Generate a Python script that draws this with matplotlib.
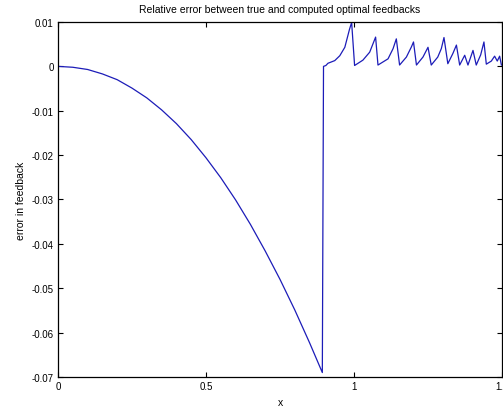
import matplotlib
matplotlib.use("Agg")
import matplotlib.pyplot as plt

plt.rcParams['font.family'] = ['Liberation Sans', 'DejaVu Sans']

# smooth part of the error curve (before the jump)
x_left = [0.0, 0.05, 0.10, 0.15, 0.20, 0.25, 0.30, 0.35, 0.40, 0.45, 0.50,
          0.55, 0.60, 0.65, 0.70, 0.75, 0.80, 0.85, 0.893]
err_left = [0.0, -0.0002, -0.0007, -0.0017, -0.0030, -0.0049, -0.0071, -0.0098,
            -0.0129, -0.0165, -0.0206, -0.0251, -0.0301, -0.0356, -0.0416,
            -0.0480, -0.0549, -0.0623, -0.0690]

# oscillating part after the jump
x_right = [0.897, 0.905, 0.912, 0.935, 0.952, 0.969, 0.985, 0.992, 1.002,
           1.030, 1.053, 1.073, 1.081,
           1.115, 1.132, 1.143, 1.154,
           1.177, 1.194, 1.201, 1.211,
           1.233, 1.250, 1.261,
           1.283, 1.295, 1.304, 1.317,
           1.334, 1.346, 1.357,
           1.374, 1.385,
           1.402, 1.413,
           1.428, 1.439, 1.447,
           1.464, 1.475, 1.484, 1.492, 1.498]
err_right = [0.0, 0.0002, 0.0007, 0.0013, 0.0024, 0.0043, 0.0084, 0.0099, 0.0002,
             0.0014, 0.0032, 0.0066, 0.0003,
             0.0017, 0.0040, 0.0062, 0.0003,
             0.0021, 0.0044, 0.0055, 0.0003,
             0.0021, 0.0043, 0.0003,
             0.0021, 0.0040, 0.0065, 0.0006,
             0.0029, 0.0048, 0.0003,
             0.0025, 0.0003,
             0.0036, 0.0003,
             0.0026, 0.0055, 0.0005,
             0.0012, 0.0023, 0.0012, 0.0023, 0.0003]

x_ticks = [0, 0.5, 1, 1.5]
x_labels = ['0', '0.5', '1', '1.5']
y_ticks = [0.01, 0, -0.01, -0.02, -0.03, -0.04, -0.05, -0.06, -0.07]
y_labels = ['0.01', '0', '-0.01', '-0.02', '-0.03', '-0.04', '-0.05', '-0.06', '-0.07']

fig = plt.figure(figsize=(5.03, 4.10), dpi=100)
ax = fig.add_axes([58 / 503, 32 / 410, 444 / 503, 355 / 410])

line_col = '#1c1cb8'
ax.plot(x_left + x_right, err_left + err_right, color=line_col, lw=0.9)

ax.set_xlim(0, 1.5)
ax.set_ylim(-0.07, 0.01)
ax.set_xticks(x_ticks)
ax.set_xticklabels(x_labels)
ax.set_yticks(y_ticks)
ax.set_yticklabels(y_labels)
ax.tick_params(direction='in', length=3.5, width=0.8, labelsize=7,
               top=True, right=True, pad=3)
for sp in ax.spines.values():
    sp.set_linewidth(0.9)

ax.set_title('Relative error between true and computed optimal feedbacks',
             fontsize=7.5, pad=7)
ax.set_xlabel('x', fontsize=7.5, labelpad=4)
ax.set_ylabel('error in feedback', fontsize=7.5, labelpad=4)

fig.savefig('out.png', dpi=100)
